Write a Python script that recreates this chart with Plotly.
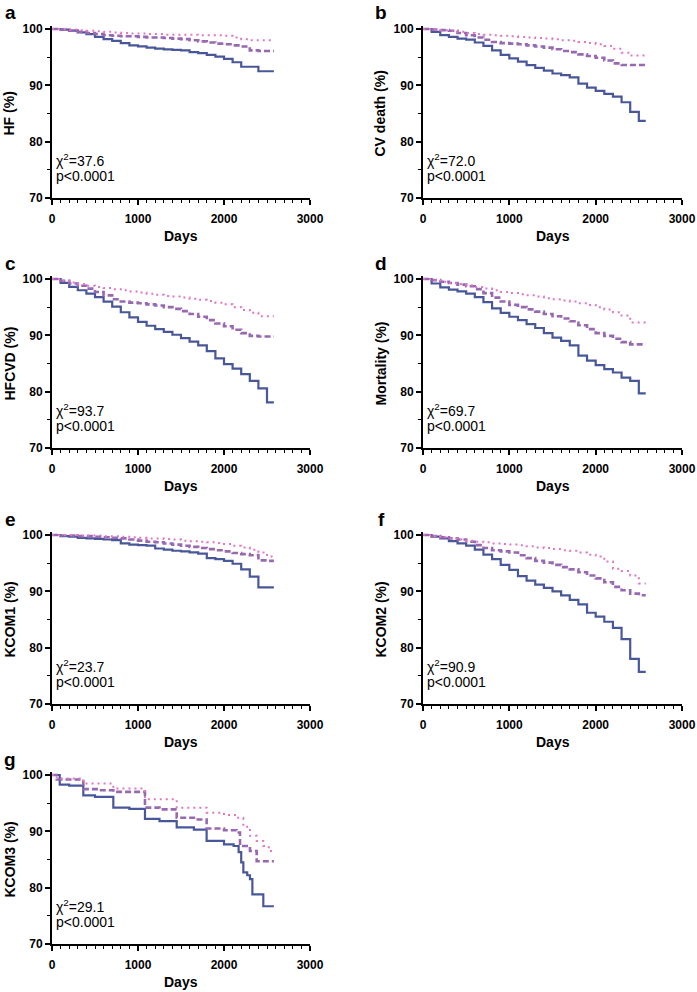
import plotly.graph_objects as go

# follow-up grid (days) shared by panels a-f
DAYS = [0, 100, 200, 300, 400, 500, 600, 700, 800, 900, 1000, 1100, 1200, 1300,
        1400, 1500, 1600, 1700, 1800, 1900, 2000, 2100, 2200, 2300, 2400, 2500, 2580]

# a - HF
a_solid = [100, 99.9, 99.7, 99.4, 99.1, 98.6, 98.2, 97.9, 97.5, 97.1, 96.9, 96.7, 96.5, 96.4,
           96.3, 96.2, 95.9, 95.7, 95.4, 95.1, 94.7, 94.1, 93.3, 93.3, 92.5, 92.5, 92.5]
a_dashed = [100, 99.9, 99.7, 99.5, 99.3, 99.1, 98.9, 98.8, 98.7, 98.7, 98.6, 98.5, 98.5, 98.4,
            98.3, 98.2, 98.0, 97.8, 97.6, 97.4, 97.3, 97.1, 96.9, 96.2, 96.1, 96.1, 96.1]
a_dotted = [100, 100, 99.9, 99.8, 99.7, 99.6, 99.5, 99.4, 99.3, 99.2, 99.2, 99.1, 99.1, 99.0,
            99.0, 99.0, 99.0, 98.9, 98.9, 98.9, 98.8, 98.5, 98.2, 98.0, 98.0, 98.0, 98.0]

# b - CV death
b_solid = [100, 99.5, 98.9, 98.6, 98.3, 98.1, 97.6, 97.0, 96.2, 95.4, 94.8, 94.2, 93.6, 93.1,
           92.6, 92.1, 91.8, 91.4, 90.3, 89.6, 89.0, 88.5, 88.0, 87.0, 85.3, 83.7, 83.7]
b_dashed = [100, 99.9, 99.8, 99.7, 99.3, 98.9, 98.5, 98.1, 97.7, 97.5, 97.4, 97.3, 97.1, 96.9,
            96.7, 96.4, 96.1, 95.9, 95.5, 95.2, 94.9, 94.4, 93.9, 93.6, 93.6, 93.6, 93.6]
b_dotted = [100, 99.9, 99.8, 99.7, 99.5, 99.3, 99.1, 99.0, 98.9, 98.8, 98.7, 98.6, 98.5, 98.4,
            98.3, 98.2, 98.0, 97.9, 97.7, 97.5, 97.3, 97.0, 96.5, 95.8, 95.3, 95.3, 95.3]

# c - HFCVD
c_solid = [100, 99.3, 98.6, 98.0, 97.4, 96.8, 96.0, 95.1, 94.1, 93.2, 92.4, 91.7, 91.1, 90.6,
           90.1, 89.5, 88.9, 88.2, 87.2, 85.9, 84.9, 84.1, 83.1, 81.9, 80.6, 78.1, 78.1]
c_dashed = [100, 99.7, 99.2, 98.8, 98.3, 97.7, 97.1, 96.4, 96.0, 95.8, 95.7, 95.5, 95.3, 95.0,
            94.7, 94.3, 93.8, 93.3, 92.7, 92.1, 91.6, 91.0, 90.4, 89.9, 89.8, 89.8, 89.8]
c_dotted = [100, 99.7, 99.4, 99.1, 98.8, 98.6, 98.4, 98.2, 98.0, 97.8, 97.6, 97.4, 97.2, 97.0,
            96.9, 96.7, 96.5, 96.3, 96.1, 95.8, 95.5, 95.0, 94.5, 94.0, 93.4, 93.4, 93.4]

# d - Mortality
d_solid = [100, 99.2, 98.5, 98.1, 97.8, 97.4, 96.8, 95.9, 94.8, 94.0, 93.3, 92.7, 92.0, 91.3,
           90.4, 89.6, 89.0, 88.2, 86.4, 85.5, 84.7, 84.0, 83.4, 82.5, 81.9, 79.7, 79.7]
d_dashed = [100, 99.8, 99.5, 99.3, 99.0, 98.7, 98.2, 97.5, 96.7, 96.0, 95.4, 95.0, 94.6, 94.2,
            93.8, 93.4, 93.0, 92.5, 91.8, 91.1, 90.4, 89.9, 89.4, 88.8, 88.4, 88.4, 88.4]
d_dotted = [100, 99.8, 99.5, 99.3, 99.1, 98.9, 98.6, 98.3, 98.0, 97.7, 97.5, 97.3, 97.1, 96.9,
            96.6, 96.4, 96.2, 96.0, 95.7, 95.4, 95.0, 94.6, 94.1, 93.5, 92.3, 92.3, 92.3]

# e - KCOM1
e_solid = [100, 99.8, 99.7, 99.5, 99.4, 99.3, 99.2, 99.1, 98.5, 98.3, 98.2, 98.1, 97.6, 97.4,
           97.2, 97.1, 96.9, 96.7, 95.9, 95.7, 95.4, 94.9, 93.9, 92.6, 90.7, 90.7, 90.7]
e_dashed = [100, 99.9, 99.9, 99.8, 99.8, 99.7, 99.6, 99.5, 99.4, 99.2, 99.0, 98.8, 98.7, 98.5,
            98.3, 98.1, 97.9, 97.7, 97.5, 97.3, 97.1, 96.8, 96.6, 96.4, 95.5, 95.4, 95.4]
e_dotted = [100, 100, 100, 99.9, 99.9, 99.9, 99.8, 99.8, 99.7, 99.6, 99.5, 99.4, 99.4, 99.3,
            99.2, 99.0, 98.9, 98.8, 98.7, 98.6, 98.4, 98.1, 97.8, 97.4, 96.9, 96.2, 95.9]

# f - KCOM2
f_solid = [100, 99.7, 99.4, 98.9, 98.5, 98.1, 97.4, 96.5, 95.7, 94.7, 93.8, 92.7, 91.9, 91.2,
           90.6, 90.0, 89.3, 88.5, 87.7, 86.2, 85.5, 84.6, 83.5, 81.5, 78.0, 75.7, 75.7]
f_dashed = [100, 99.8, 99.6, 99.4, 99.2, 98.8, 98.2, 97.7, 97.3, 97.1, 96.9, 96.4, 95.9, 95.4,
            95.1, 94.7, 94.3, 93.9, 93.4, 92.8, 92.3, 91.6, 90.8, 90.2, 89.6, 89.3, 89.3]
f_dotted = [100, 99.8, 99.6, 99.4, 99.2, 99.0, 98.8, 98.7, 98.5, 98.4, 98.3, 98.2, 98.0, 97.8,
            97.7, 97.5, 97.3, 97.2, 96.9, 96.5, 96.2, 95.3, 94.0, 93.6, 92.8, 91.4, 91.4]

# g - KCOM3 (fewer, larger steps)
g_solid_days = [0, 90, 200, 364, 500, 713, 900, 1081, 1250, 1450, 1650, 1798, 2000, 2112,
                2170, 2200, 2225, 2270, 2302, 2330, 2457, 2580]
g_solid = [100, 98.3, 98.1, 96.4, 96.1, 94.2, 94.0, 92.2, 91.8, 90.7, 90.3, 88.3, 87.7, 87.4,
           86.3, 84.5, 82.7, 82.2, 81.5, 78.8, 76.7, 76.7]
g_dashed_days = [0, 54, 364, 550, 713, 1081, 1250, 1450, 1650, 1798, 2000, 2147, 2186, 2302, 2380, 2580]
g_dashed = [100, 99.2, 97.5, 97.3, 97.0, 94.2, 93.9, 92.4, 92.1, 90.5, 90.2, 89.8, 87.4, 86.5, 84.7, 84.7]
g_dotted_days = [0, 54, 364, 713, 1081, 1450, 1798, 2000, 2147, 2225, 2302, 2380, 2457, 2520, 2580]
g_dotted = [100, 99.4, 98.5, 97.6, 95.7, 94.2, 93.3, 92.9, 92.4, 90.8, 89.2, 88.3, 87.4, 86.5, 86.5]

letters = ["a", "b", "c", "d", "e", "f", "g"]
ytitles = ["HF (%)", "CV death (%)", "HFCVD (%)", "Mortality (%)", "KCOM1 (%)", "KCOM2 (%)", "KCOM3 (%)"]
chi2 = ["37.6", "72.0", "93.7", "69.7", "23.7", "90.9", "29.1"]
curves = [
    [(DAYS, a_solid), (DAYS, a_dashed), (DAYS, a_dotted)],
    [(DAYS, b_solid), (DAYS, b_dashed), (DAYS, b_dotted)],
    [(DAYS, c_solid), (DAYS, c_dashed), (DAYS, c_dotted)],
    [(DAYS, d_solid), (DAYS, d_dashed), (DAYS, d_dotted)],
    [(DAYS, e_solid), (DAYS, e_dashed), (DAYS, e_dotted)],
    [(DAYS, f_solid), (DAYS, f_dashed), (DAYS, f_dotted)],
    [(g_solid_days, g_solid), (g_dashed_days, g_dashed), (g_dotted_days, g_dotted)],
]

W, H = 697, 992
FONT = "Arial, Liberation Sans, sans-serif"
styles = [dict(color="#48579a", width=2.2, dash="solid"),
          dict(color="#9868b2", width=2.6, dash="6px,3px"),
          dict(color="#dc78c6", width=2, dash="2px,4px")]

# panel positions in page pixels
cols = [(52, 310), (423, 682)]
rows = [(29, 198), (279, 448), (535, 704), (775, 944)]
YTOP = 100.6


def px(v):
    return v / W


def py(v):
    return 1 - v / H


def label(text, x, y, size, xanchor="center", angle=0):
    return dict(text=text, x=px(x), y=py(y), xref="paper", yref="paper",
                xanchor=xanchor, yanchor="middle", showarrow=False, textangle=angle,
                font=dict(family=FONT, size=size, color="black"))


fig = go.Figure()
annotations = []

for i in range(7):
    r, c = divmod(i, 2)
    x0, x1 = cols[c]
    y100, y70 = rows[r]
    ppu = (y70 - y100) / 30.0
    ytop_px = y100 - (YTOP - 100) * ppu
    n = "" if i == 0 else str(i + 1)

    for (xs, ys), st in zip(curves[i], styles):
        fig.add_trace(go.Scatter(x=xs, y=ys, mode="lines", line_shape="hv",
                                 line=st, xaxis="x" + n, yaxis="y" + n,
                                 showlegend=False, hoverinfo="skip"))

    fig.layout["xaxis" + n] = dict(
        domain=[px(x0), px(x1)], anchor="y" + n, range=[0, 3000], automargin=False,
        tickmode="linear", tick0=0, dtick=1000, ticks="outside", ticklen=5, tickwidth=2,
        tickcolor="black", showline=True, linewidth=2, linecolor="black",
        showgrid=False, zeroline=False, ticklabelstandoff=4,
        minor=dict(dtick=100, tick0=0, ticks="outside", ticklen=3, tickwidth=1.3,
                   tickcolor="black", showgrid=False),
        tickfont=dict(family=FONT, size=12, color="black", weight="bold"))
    fig.layout["yaxis" + n] = dict(
        domain=[py(y70), py(ytop_px)], anchor="x" + n, range=[70, YTOP], automargin=False,
        tickmode="linear", tick0=70, dtick=10, ticks="outside", ticklen=5, tickwidth=2,
        tickcolor="black", showline=True, linewidth=2, linecolor="black",
        showgrid=False, zeroline=False,
        minor=dict(dtick=5, tick0=70, ticks="outside", ticklen=3, tickwidth=1.3,
                   tickcolor="black", showgrid=False),
        tickfont=dict(family=FONT, size=12, color="black", weight="bold"))

    annotations.append(label("<b>" + letters[i] + "</b>", x0 - 42, y100 - 16, 19))
    annotations.append(label("<b>" + ytitles[i] + "</b>", x0 - 43, (y100 + y70) / 2, 14, angle=-90))
    annotations.append(label("<b>Days</b>", (x0 + x1) / 2, y70 + 38, 14))
    annotations.append(label("\u03c7<sup>2</sup>=" + chi2[i], x0 + 2, y100 + 131, 14, xanchor="left"))
    annotations.append(label("p<0.0001", x0 + 2, y100 + 147, 14, xanchor="left"))

fig.update_layout(width=W, height=H, margin=dict(l=0, r=0, t=0, b=0),
                  plot_bgcolor="white", paper_bgcolor="white",
                  annotations=annotations)

# drop the browser's default 8px body margin so the figure fills the window
fig.write_html("out.html", config={"displayModeBar": False},
               post_script="document.body.style.margin = '0';")
